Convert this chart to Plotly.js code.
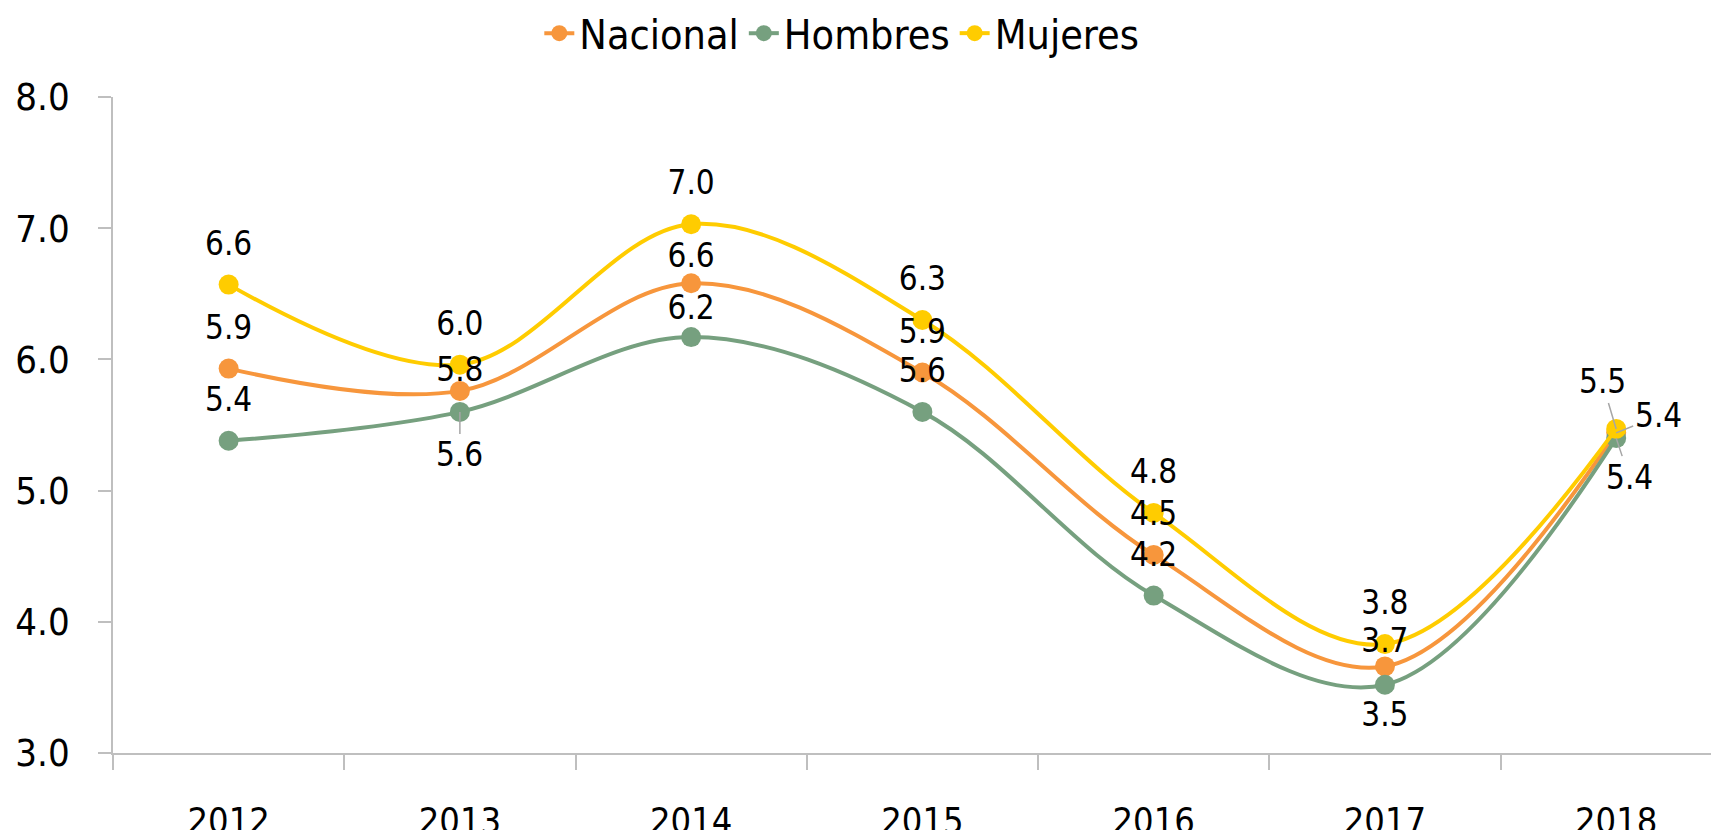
<!DOCTYPE html>
<html>
<head>
<meta charset="utf-8">
<script src="https://cdn.plot.ly/plotly-3.0.1.min.js"></script>
<style>
  html, body { margin: 0; padding: 0; background: #fff; }
  #chart { width: 1711px; height: 830px; }
</style>
</head>
<body>
<div id="chart"></div>
<script>
const years = ['2012', '2013', '2014', '2015', '2016', '2017', '2018'];
const nacional = [5.93, 5.76, 6.58, 5.90, 4.51, 3.66, 5.44];
const hombres  = [5.38, 5.60, 6.17, 5.60, 4.20, 3.52, 5.40];
const mujeres  = [6.57, 5.96, 7.03, 6.30, 4.83, 3.83, 5.47];
const yTicks = [3, 4, 5, 6, 7, 8];
const yTickLabels = ['3.0', '4.0', '5.0', '6.0', '7.0', '8.0'];

const FONT = '"DejaVu Sans Condensed", "DejaVu Sans", sans-serif';
const colors = { nacional: '#F7963C', hombres: '#76A07F', mujeres: '#FFCC00' };

// label placement (style only): position and spacing of each point label
const posN = 'top center', posM = 'top center';
const posH = ['top center', 'top center', 'top center', 'top center', 'top center', 'bottom center', 'top center'];
const gapN = [33, 1, 12, 33, 33, 8, 20];
const gapH = [33, 20, 14, 33, 33, 24, 20];
const gapM = [33, 33, 33, 33, 33, 33, 20];
const leadN = [6], leadH = [1, 6], leadM = [6];

function labels(vals, lead) {
  return vals.map((v, i) => lead.includes(i) ? '' : v.toFixed(1));
}

function lineTrace(name, vals, color) {
  return {
    type: 'scatter', mode: 'lines+markers', name: name,
    x: years, y: vals,
    line: { color: color, width: 4, shape: 'spline', smoothing: 1 },
    marker: { color: color, size: 20 },
    hoverinfo: 'skip'
  };
}
function textTrace(vals, lead, pos, gap) {
  return {
    type: 'scatter', mode: 'markers+text', showlegend: false,
    x: years, y: vals, text: labels(vals, lead),
    textposition: pos,
    marker: { size: gap, opacity: 0 },
    textfont: { family: FONT, size: 33, color: '#000' },
    hoverinfo: 'skip'
  };
}

const data = [
  lineTrace('Nacional', nacional, colors.nacional),
  lineTrace('Hombres', hombres, colors.hombres),
  lineTrace('Mujeres', mujeres, colors.mujeres),
  textTrace(nacional, leadN, posN, gapN),
  textTrace(hombres, leadH, posH, gapH),
  textTrace(mujeres, leadM, posM, gapM)
];

// labels with a leader line; x is the category index on the category axis
function leader(i, vals, ax, ay) {
  return {
    x: i, y: vals[i], xref: 'x', yref: 'y', text: vals[i].toFixed(1),
    showarrow: true, arrowhead: 0, arrowwidth: 1.5, arrowcolor: '#A6A6A6',
    ax: ax, ay: ay, standoff: 0,
    font: { family: FONT, size: 33, color: '#000' }
  };
}

const annotations = [
  leader(1, hombres, 0, 43),
  leader(6, mujeres, -14, -47),
  leader(6, nacional, 42, -17),
  leader(6, hombres, 13, 39)
];

const layout = {
  width: 1711, height: 830,
  margin: { l: 113, r: 0, t: 97, b: 77 },
  paper_bgcolor: '#fff', plot_bgcolor: '#fff',
  font: { family: FONT, color: '#000' },
  showlegend: true,
  legend: {
    orientation: 'h', xref: 'container', yref: 'container',
    x: 0.492, xanchor: 'center', y: 1.0, yanchor: 'top',
    font: { family: FONT, size: 41, color: '#000' }
  },
  xaxis: {
    type: 'category', range: [-0.5, 6.41],
    showline: true, linecolor: '#BFBFBF', linewidth: 1.5,
    ticks: 'outside', tickson: 'boundaries', ticklen: 15, tickcolor: '#BFBFBF', tickwidth: 1.5,
    showgrid: false, zeroline: false,
    tickfont: { family: FONT, size: 36, color: '#000' },
    ticklabelstandoff: 35
  },
  yaxis: {
    range: [3, 8], tickvals: yTicks, ticktext: yTickLabels,
    showline: true, linecolor: '#BFBFBF', linewidth: 1.5,
    ticks: 'outside', ticklen: 13, tickcolor: '#BFBFBF', tickwidth: 1.5,
    showgrid: false, zeroline: false,
    tickfont: { family: FONT, size: 38, color: '#000' },
    ticklabelstandoff: 21
  },
  annotations: annotations
};

Plotly.newPlot('chart', data, layout, { displayModeBar: false });
</script>
</body>
</html>
